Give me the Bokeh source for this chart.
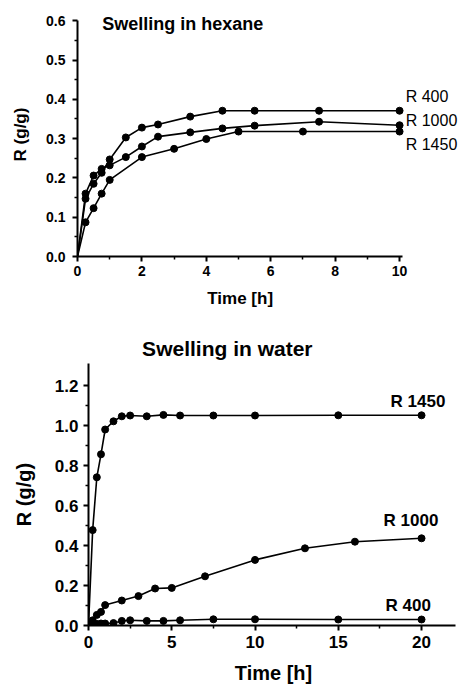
from bokeh.plotting import figure
from bokeh.models import Range1d, Label, FixedTicker, PrintfTickFormatter
from bokeh.core.properties import value
from bokeh.layouts import column, row
from bokeh.embed import file_html
from bokeh.resources import INLINE

FONT = "Liberation Sans"

# ---- Swelling in hexane ----
hex_t_400 = [0, 0.25, 0.5, 0.75, 1, 1.5, 2, 2.5, 3.5, 4.5, 5.5, 7.5, 10]
hex_r_400 = [0, 0.147, 0.185, 0.213, 0.247, 0.303, 0.328, 0.336, 0.356, 0.371, 0.371, 0.371, 0.371]
hex_t_1000 = [0, 0.25, 0.5, 0.75, 1, 1.5, 2, 2.5, 3.5, 4.5, 5.5, 7.5, 10]
hex_r_1000 = [0, 0.160, 0.206, 0.223, 0.232, 0.253, 0.280, 0.305, 0.316, 0.326, 0.333, 0.343, 0.334]
hex_t_1450 = [0, 0.25, 0.5, 0.75, 1, 2, 3, 4, 5, 7, 10]
hex_r_1450 = [0, 0.087, 0.123, 0.160, 0.195, 0.253, 0.274, 0.299, 0.318, 0.318, 0.318]

hex_xticks = [0, 2, 4, 6, 8, 10]
hex_xminor = [1, 3, 5, 7, 9]
hex_yticks = [0.0, 0.1, 0.2, 0.3, 0.4, 0.5, 0.6]
hex_yminor = [0.05, 0.15, 0.25, 0.35, 0.45, 0.55]

# ---- Swelling in water ----
wat_t_1450 = [0, 0.25, 0.5, 0.75, 1, 1.5, 2, 2.5, 3.5, 4.5, 5.5, 7.5, 10, 15, 20]
wat_r_1450 = [0, 0.477, 0.741, 0.856, 0.980, 1.021, 1.046, 1.050, 1.046, 1.053, 1.050, 1.050, 1.050, 1.051, 1.051]
wat_t_1000 = [0, 0.25, 0.5, 0.75, 1, 2, 3, 4, 5, 7, 10, 13, 16, 20]
wat_r_1000 = [0, 0.026, 0.053, 0.068, 0.102, 0.125, 0.147, 0.185, 0.188, 0.246, 0.328, 0.386, 0.419, 0.436]
wat_t_400 = [0, 0.25, 0.5, 0.75, 1, 1.5, 2, 2.5, 3.5, 4.5, 5.5, 7.5, 10, 15, 20]
wat_r_400 = [0, 0.010, 0.008, 0.010, 0.010, 0.012, 0.023, 0.026, 0.023, 0.023, 0.026, 0.031, 0.031, 0.030, 0.030]

wat_xticks = [0, 5, 10, 15, 20]
wat_xminor = [2.5, 7.5, 12.5, 17.5]
wat_yticks = [0.0, 0.2, 0.4, 0.6, 0.8, 1.0, 1.2]
wat_yminor = [0.1, 0.3, 0.5, 0.7, 0.9, 1.1]

hex_series = [("R 400", hex_t_400, hex_r_400), ("R 1000", hex_t_1000, hex_r_1000),
              ("R 1450", hex_t_1450, hex_r_1450)]
wat_series = [("R 1450", wat_t_1450, wat_r_1450), ("R 1000", wat_t_1000, wat_r_1000),
              ("R 400", wat_t_400, wat_r_400)]


def style(p, tick_fs, label_fs, lab_sy, tick_sx, tick_sy):
    for ax in (p.xaxis[0], p.yaxis[0]):
        ax.axis_line_width = 2
        ax.axis_line_color = "black"
        ax.major_tick_line_width = 2
        ax.minor_tick_line_width = 1.5
        ax.major_tick_out = 5
        ax.major_tick_in = 0
        ax.minor_tick_out = 3
        ax.minor_tick_in = 0
        ax.major_label_text_font = FONT
        ax.major_label_text_font_style = "bold"
        ax.major_label_text_font_size = tick_fs
        ax.major_label_text_color = "black"
        ax.axis_label_text_font = FONT
        ax.axis_label_text_font_style = "bold"
        ax.axis_label_text_font_size = label_fs
        ax.axis_label_text_color = "black"
    p.xaxis[0].major_label_standoff = tick_sx
    p.yaxis[0].major_label_standoff = tick_sy
    p.yaxis[0].axis_label_standoff = lab_sy
    p.xgrid.visible = False
    p.ygrid.visible = False
    p.outline_line_color = None
    p.background_fill_color = "white"
    p.border_fill_color = "white"


def strip(h, x_range, left, txt, x, y, size, align):
    s = figure(width=458, height=h, output_backend="svg", toolbar_location=None,
               x_range=x_range, y_range=Range1d(0, h),
               min_border_left=left, min_border_right=0, min_border_top=0, min_border_bottom=0,
               x_axis_location=None, y_axis_location=None)
    s.xgrid.visible = False
    s.ygrid.visible = False
    s.outline_line_color = None
    s.text(x=[x], y=[y], text=[txt], text_font=value(FONT), text_font_size=size,
           text_font_style="bold", text_baseline="middle", text_align=align, text_color="black")
    return s


# ---------- top figure ----------
hex_xr = Range1d(0, 11.83)
p1 = figure(width=458, height=284, output_backend="svg", toolbar_location=None,
            x_range=hex_xr, y_range=Range1d(0, 0.621),
            min_border_left=77, min_border_right=0, min_border_top=12, min_border_bottom=28,
            y_axis_label="R (g/g)")
p1.xaxis[0].ticker = FixedTicker(ticks=hex_xticks, minor_ticks=hex_xminor)
p1.yaxis[0].ticker = FixedTicker(ticks=hex_yticks, minor_ticks=hex_yminor)
p1.yaxis[0].formatter = PrintfTickFormatter(format="%.1f")
p1.xaxis[0].bounds = (0, 10.09)
p1.yaxis[0].bounds = (0, 0.6001)
style(p1, "14px", "17px", 13, 4, 7)

for name, t, r in hex_series:
    p1.line(t, r, line_color="black", line_width=1.6)
    p1.scatter(t[1:], r[1:], size=7, color="black")

hex_labels = [("R 400", 10.19, 0.408), ("R 1000", 10.19, 0.346), ("R 1450", 10.19, 0.284)]
for txt, x, y in hex_labels:
    p1.add_layout(Label(x=x, y=y, text=txt, text_font=FONT, text_font_size="16px",
                        text_baseline="middle", text_align="left", text_color="black"))
p1.add_layout(Label(x=0.77, y=0.593, text="Swelling in hexane", text_font=FONT,
                    text_font_size="18px", text_font_style="bold", text_baseline="middle",
                    text_align="left", text_color="black"))

s1 = strip(34, hex_xr, 77, "Time [h]", 5.05, 20, "17px", "center")

# ---------- bottom figure ----------
wat_xr = Range1d(0, 22.22)
s2 = strip(45, wat_xr, 88, "Swelling in water", 3.22, 15, "21px", "left")

p2 = figure(width=458, height=323, output_backend="svg", toolbar_location=None,
            x_range=wat_xr, y_range=Range1d(0, 1.31),
            min_border_left=88, min_border_right=0, min_border_top=0, min_border_bottom=58,
            x_axis_label="Time [h]", y_axis_label="R (g/g)")
p2.xaxis[0].ticker = FixedTicker(ticks=wat_xticks, minor_ticks=wat_xminor)
p2.yaxis[0].ticker = FixedTicker(ticks=wat_yticks, minor_ticks=wat_yminor)
p2.yaxis[0].formatter = PrintfTickFormatter(format="%.1f")
p2.xaxis[0].bounds = (0, 22.04)
style(p2, "17px", "20px", 17, 5, 5)
p2.xaxis[0].axis_label_standoff = 11

for name, t, r in wat_series:
    p2.line(t, r, line_color="black", line_width=1.6)
    p2.scatter(t[1:], r[1:], size=7, color="black")

wat_labels = [("R 1450", 18.14, 1.12), ("R 1000", 17.72, 0.526), ("R 400", 17.84, 0.099)]
for txt, x, y in wat_labels:
    p2.add_layout(Label(x=x, y=y, text=txt, text_font=FONT, text_font_size="17px",
                        text_font_style="bold", text_baseline="middle", text_align="left",
                        text_color="black"))

layout = column(row(p1), row(s1), row(s2), row(p2), spacing=0)
open("out.html", "w").write(file_html(layout, INLINE))
